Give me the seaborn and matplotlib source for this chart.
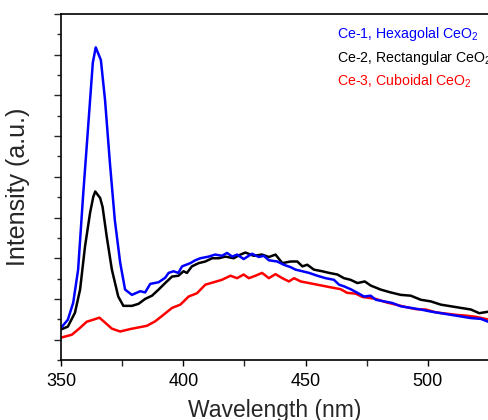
import matplotlib
matplotlib.use("Agg")
import matplotlib.pyplot as plt
from matplotlib.ticker import MultipleLocator, NullFormatter
import seaborn as sns

# Photoluminescence spectra of three CeO2 morphologies (arbitrary units)
wl_ce1 = [350.0, 352.8, 355.0, 357.0, 359.0, 361.0, 363.0, 364.2, 366.3, 368.0,
          370.0, 372.0, 374.2, 376.2, 379.0, 382.4, 384.4, 386.5, 389.9, 392.6,
          394.0, 396.0, 398.0, 399.5, 402.9, 404.9, 407.0, 410.4, 413.0, 415.8,
          417.9, 420.0, 422.0, 424.7, 428.1, 430.9, 432.9, 435.0, 438.4, 441.1,
          443.9, 445.9, 448.7, 451.4, 454.8, 458.2, 461.6, 463.7, 465.7, 468.4,
          471.2, 473.9, 476.6, 478.7, 482.1, 485.5, 488.9, 493.0, 497.1, 501.2,
          505.3, 509.4, 513.5, 517.6, 521.7, 525.1]
int_ce1 = [0.29, 0.49, 0.91, 1.72, 3.51, 5.15, 6.80, 7.18, 6.87, 5.89,
           4.34, 2.94, 1.89, 1.23, 1.10, 1.19, 1.16, 1.37, 1.41, 1.52,
           1.64, 1.68, 1.64, 1.80, 1.88, 1.95, 2.00, 2.04, 2.09, 2.06,
           2.13, 2.04, 2.09, 1.98, 2.11, 2.03, 2.06, 1.95, 1.92, 1.84,
           1.78, 1.72, 1.68, 1.64, 1.57, 1.51, 1.47, 1.35, 1.31, 1.24,
           1.15, 1.06, 1.08, 0.98, 0.94, 0.90, 0.82, 0.78, 0.74, 0.69,
           0.65, 0.61, 0.57, 0.53, 0.51, 0.43]

wl_ce2 = [350.0, 352.8, 355.7, 357.8, 359.8, 361.9, 363.2, 364.0, 366.0, 367.0,
          368.7, 370.8, 373.4, 375.5, 379.0, 381.7, 384.4, 387.2, 389.9, 392.6,
          395.4, 398.0, 400.1, 401.5, 403.5, 406.3, 409.0, 411.8, 414.5, 417.2,
          420.6, 423.4, 425.4, 428.8, 432.2, 435.0, 437.7, 440.5, 443.9, 446.6,
          448.7, 450.7, 453.4, 456.8, 459.6, 463.0, 465.7, 468.4, 471.2, 474.2,
          476.6, 480.7, 484.8, 488.9, 493.0, 497.1, 501.2, 505.3, 509.4, 513.5,
          517.6, 521.0, 525.1]
int_ce2 = [0.25, 0.32, 0.66, 1.23, 2.28, 3.12, 3.51, 3.64, 3.48, 3.26,
           2.53, 1.72, 1.06, 0.83, 0.83, 0.88, 1.00, 1.08, 1.23, 1.39,
           1.55, 1.57, 1.68, 1.64, 1.80, 1.88, 1.92, 2.00, 2.00, 2.04,
           2.00, 2.09, 2.14, 2.06, 2.09, 2.03, 2.09, 1.88, 1.92, 1.92,
           1.80, 1.84, 1.72, 1.68, 1.64, 1.60, 1.51, 1.47, 1.39, 1.43,
           1.33, 1.23, 1.16, 1.10, 1.08, 0.98, 0.94, 0.86, 0.82, 0.78,
           0.74, 0.65, 0.69]

wl_ce3 = [350.0, 354.4, 357.8, 360.5, 363.2, 365.7, 368.0, 370.8, 374.2, 378.3,
          381.7, 385.1, 388.5, 391.9, 395.4, 398.8, 402.2, 405.6, 409.0, 412.4,
          415.8, 419.3, 422.0, 424.7, 426.8, 429.5, 432.2, 435.0, 437.7, 440.5,
          443.2, 445.3, 448.0, 451.4, 454.8, 458.2, 461.6, 464.3, 467.0, 470.5,
          473.2, 476.6, 478.7, 482.8, 486.9, 491.0, 495.1, 499.2, 503.3, 507.4,
          511.5, 515.6, 519.7, 525.1]
int_ce3 = [0.05, 0.12, 0.29, 0.44, 0.49, 0.54, 0.42, 0.27, 0.20, 0.26,
           0.30, 0.34, 0.45, 0.61, 0.78, 0.86, 1.06, 1.14, 1.35, 1.41,
           1.47, 1.57, 1.51, 1.60, 1.51, 1.57, 1.64, 1.51, 1.61, 1.51,
           1.43, 1.51, 1.43, 1.39, 1.35, 1.31, 1.27, 1.24, 1.15, 1.13,
           1.05, 1.02, 1.00, 0.92, 0.86, 0.80, 0.75, 0.74, 0.67, 0.64,
           0.61, 0.59, 0.56, 0.49]

labels = ["Ce-1, Hexagolal CeO$_\\mathregular{2}$",
          "Ce-2, Rectangular CeO$_\\mathregular{2}$",
          "Ce-3, Cuboidal CeO$_\\mathregular{2}$"]
colors = ["#0000ff", "#000000", "#ff0000"]

sns.set_style("ticks")
plt.rcParams["font.family"] = ["Liberation Sans", "DejaVu Sans"]
plt.rcParams["mathtext.fontset"] = "custom"
plt.rcParams["mathtext.rm"] = "Liberation Sans"

fig = plt.figure(figsize=(4.89, 4.20), dpi=100)
ax = fig.add_axes([61 / 489, 60 / 420, 428 / 489, 346 / 420])

series = [(wl_ce1, int_ce1), (wl_ce2, int_ce2), (wl_ce3, int_ce3)]
# draw black first, then red, then blue on top
for i in (1, 2, 0):
    x, y = series[i]
    sns.lineplot(x=x, y=y, color=colors[i], linewidth=1.8, ax=ax,
                 estimator=None, sort=False)

ax.set_xlim(350, 525)
ax.set_ylim(-0.5, 8)
ax.xaxis.set_major_locator(MultipleLocator(50))
ax.xaxis.set_minor_locator(MultipleLocator(25))
ax.yaxis.set_major_locator(MultipleLocator(1))
ax.yaxis.set_minor_locator(MultipleLocator(0.5))
ax.yaxis.set_major_formatter(NullFormatter())

ax.tick_params(axis="x", which="major", direction="out", length=4, width=1,
               labelsize=13, pad=5, colors="black")
ax.tick_params(axis="x", which="minor", direction="out", length=4, width=1)
ax.tick_params(axis="y", which="major", direction="out", length=5, width=1)
ax.tick_params(axis="y", which="minor", direction="out", length=3, width=1)
ax.tick_params(top=False, right=False, which="both")

for side in ("left", "bottom", "top"):
    ax.spines[side].set_visible(True)
    ax.spines[side].set_linewidth(1.2)
    ax.spines[side].set_color("black")
ax.spines["right"].set_visible(False)

ax.set_xlabel("Wavelength (nm)", fontsize=16.5, labelpad=7)
ax.set_ylabel("Intensity (a.u.)", fontsize=18, labelpad=14)

# colored text key in the upper right
for k, yy in zip(range(3), (0.930, 0.862, 0.794)):
    ax.text(0.644, yy, labels[k], color=colors[k], fontsize=10.2,
            transform=ax.transAxes, ha="left", va="baseline")

fig.savefig("out.png", dpi=100)
